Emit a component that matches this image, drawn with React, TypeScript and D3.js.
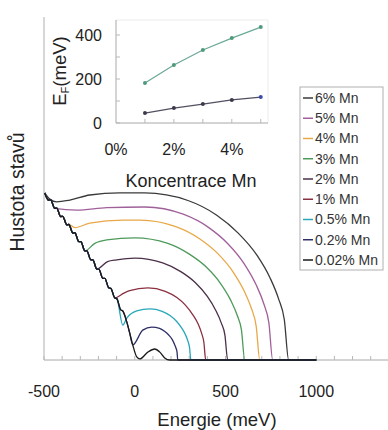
import React from 'react';
import * as d3 from 'd3';

type P = [number, number];

const seriesLabels = ['6% Mn', '5% Mn', '4% Mn', '3% Mn', '2% Mn', '1% Mn', '0.5% Mn', '0.2% Mn', '0.02% Mn'];
const seriesColors = ['#3a3a3a', '#a0609a', '#e8a848', '#4e9a5a', '#4a3048', '#8a3040', '#28a8b8', '#303068', '#1a1a1a'];

// shared impurity-band tail (energy meV, DOS arb.)
const tail: P[] = [
  [-496, 48.7], [-474, 46.6], [-463, 46.7], [-441, 44.2], [-430, 44.3], [-408, 41.8], [-397, 41.9],
  [-374, 39.4], [-363, 39.5], [-341, 37.0], [-330, 37.1], [-308, 34.5], [-297, 34.5], [-275, 31.8],
  [-264, 31.8], [-242, 29.2], [-231, 29.2], [-209, 26.5], [-198, 26.5], [-176, 23.8], [-165, 23.8],
  [-143, 21.0], [-132, 20.9], [-110, 18.1], [-99, 17.9], [-77, 14.6], [-66, 14.3], [-44, 11.1],
  [-28, 7.9], [-11, 4.4], [11, 0.9], [28, 0.3],
];

// where each curve leaves the tail (last tail energy kept)
const tailEnd = [-496, -441, -363, -275, -209, -110, -99, -11, 28];

const dos6: P[] = [[-468, 46.9], [-430, 46.1], [-358, 46.6], [-248, 48.1], [-83, 48.7], [55, 48.7], [293, 46.5], [452, 42.2], [570, 37.0], [674, 30.5], [745, 24.0], [792, 17.9], [824, 11.8], [848, 0], [1000, 0]];
const dos5: P[] = [[-319, 43.7], [-154, 44.4], [55, 44.6], [267, 42.5], [408, 38.6], [513, 33.9], [605, 27.9], [668, 22.0], [711, 16.4], [739, 10.8], [760, 0], [1000, 0]];
const dos4: P[] = [[-330, 38.6], [-248, 39.9], [-66, 40.8], [28, 40.8], [226, 38.9], [359, 35.3], [458, 31.0], [544, 25.5], [603, 20.1], [643, 15.0], [669, 9.9], [689, 0], [1000, 0]];
const dos3: P[] = [[-220, 34.0], [-154, 35.0], [0, 35.6], [182, 34.0], [303, 30.8], [394, 27.1], [473, 22.3], [527, 17.6], [564, 13.1], [588, 8.7], [606, 0], [1000, 0]];
const dos2: P[] = [[-150, 28.7], [-99, 29.2], [0, 29.7], [154, 28.3], [256, 25.7], [333, 22.6], [399, 18.6], [445, 14.6], [476, 10.9], [497, 7.2], [512, 0], [1000, 0]];
const dos1: P[] = [[-60, 19.5], [-28, 20.2], [72, 21.0], [168, 20.0], [232, 18.2], [279, 16.0], [321, 13.1], [350, 10.4], [369, 7.7], [381, 5.1], [391, 0], [1000, 0]];
const dos05: P[] = [[-66, 10.2], [-44, 12.2], [11, 14.3], [83, 14.9], [151, 14.2], [196, 12.9], [230, 11.3], [259, 9.3], [280, 7.3], [293, 5.5], [302, 3.6], [309, 0], [1000, 0]];
const dos02: P[] = [[44, 8.7], [94, 9.6], [137, 9.2], [166, 8.3], [187, 7.3], [206, 6.0], [218, 4.7], [227, 3.5], [233, 2.3], [237, 0], [1000, 0]];
const dos002: P[] = [[72, 2.3], [110, 3.2], [138, 2.3], [165, 0.6], [193, 0], [1000, 0]];
const ownPoints = [dos6, dos5, dos4, dos3, dos2, dos1, dos05, dos02, dos002];

const xTicks = [-500, 0, 500, 1000];

// inset: Fermi energy vs Mn concentration
const conc = [1, 2, 3, 4, 5];
const efUpper = [182, 264, 332, 386, 436];
const efLower = [45, 68, 86, 105, 118];
const insetXTicks = [0, 2, 4];
const insetYTicks = [0, 200, 400];

const FONT = 'Liberation Sans, Arial, sans-serif';

export default function App() {
  const x = d3.scaleLinear().domain([-500, 1500]).range([44, 407]);
  const y = d3.scaleLinear().domain([0, 100]).range([360, 17]);
  const line = d3.line<P>().x(d => x(d[0])).y(d => y(d[1])).curve(d3.curveMonotoneX);

  const ix = d3.scaleLinear().domain([0, 5.25]).range([116, 268]);
  const iy = d3.scaleLinear().domain([0, 400]).range([123, 35]);
  const iline = d3.line<number>().x((_, i) => ix(conc[i]));

  const curves = ownPoints.map((own, i) => {
    const pts = tail.filter(p => p[0] <= tailEnd[i]).concat(own);
    return line(pts) as string;
  });

  const minorTicks = d3.range(-500, 1501, 100);
  const insetYMinor = d3.range(0, 401, 100);

  return (
    <svg width={388} height={430} style={{ position: 'absolute', left: 0, top: 0, background: '#fff' }} fontFamily={FONT}>
      <rect x={0} y={0} width={388} height={430} fill="#fff" />
      {/* main axes */}
      <line x1={44} x2={44} y1={17} y2={360} stroke="#b0b0b0" strokeWidth={1} />
      <line x1={44} x2={388} y1={360} y2={360} stroke="#a8a8a8" strokeWidth={1} />
      {minorTicks.map(t => (
        <line key={t} x1={x(t)} x2={x(t)} y1={360} y2={356} stroke="#b8b8b8" strokeWidth={1} />
      ))}
      {xTicks.map(t => (
        <text key={t} x={x(t)} y={397} textAnchor="middle" fontSize={16} fill="#222">{t}</text>
      ))}
      <text x={217} y={426} textAnchor="middle" fontSize={18.5} fill="#222">Energie (meV)</text>
      <text transform="translate(24,192) rotate(-90)" textAnchor="middle" fontSize={19.5} fill="#222">Hustota stavů</text>

      {/* DOS curves */}
      {curves.map((d, i) => (
        <path key={i} d={d} fill="none" stroke={seriesColors[i]} strokeWidth={1.3} />
      ))}

      {/* inset */}
      <line x1={116} x2={268} y1={20} y2={20} stroke="#ececec" />
      <line x1={268} x2={268} y1={20} y2={123} stroke="#ececec" />
      <line x1={116} x2={116} y1={20} y2={123} stroke="#a8a8a8" />
      <line x1={116} x2={268} y1={123} y2={123} stroke="#a8a8a8" />
      {insetYMinor.map(t => (
        <line key={t} x1={116} x2={120} y1={iy(t)} y2={iy(t)} stroke="#b8b8b8" />
      ))}
      {conc.map(c => (
        <line key={c} x1={ix(c)} x2={ix(c)} y1={123} y2={119} stroke="#b8b8b8" />
      ))}
      {insetYTicks.map(t => (
        <text key={t} x={102} y={iy(t)} dy="0.35em" textAnchor="end" fontSize={16} fill="#222">{t}</text>
      ))}
      {insetXTicks.map(t => (
        <text key={t} x={ix(t)} y={155} textAnchor="middle" fontSize={16} fill="#222">{t}%</text>
      ))}
      <text x={191} y={187} textAnchor="middle" fontSize={18} fill="#222">Koncentrace Mn</text>
      <text transform="translate(66,71) rotate(-90)" textAnchor="middle" fontSize={18.5} fill="#222">
        E<tspan fontSize={11} dy={3}>F</tspan><tspan dy={-3}>(meV)</tspan>
      </text>
      <path d={iline.y(v => iy(v))(efUpper) as string} fill="none" stroke="#6aa898" strokeWidth={1.2} />
      <path d={iline.y(v => iy(v))(efLower) as string} fill="none" stroke="#505060" strokeWidth={1.2} />
      {efUpper.map((v, i) => (
        <circle key={'u' + i} cx={ix(conc[i])} cy={iy(v)} r={2} fill="#4e9a7a" />
      ))}
      {efLower.map((v, i) => (
        <circle key={'l' + i} cx={ix(conc[i])} cy={iy(v)} r={2} fill={i === 4 ? '#3a4aaa' : '#3a3a4a'} />
      ))}

      {/* legend */}
      <rect x={300} y={87} width={83} height={183} fill="#fff" stroke="#b0b0b0" />
      {seriesLabels.map((s, i) => {
        const yy = 98 + i * 20.25;
        return (
          <g key={s}>
            <line x1={303} x2={313} y1={yy} y2={yy} stroke={seriesColors[i]} strokeWidth={1.5} />
            <text x={315} y={yy} dy="0.35em" fontSize={14} fill="#333">{s}</text>
          </g>
        );
      })}
    </svg>
  );
}
